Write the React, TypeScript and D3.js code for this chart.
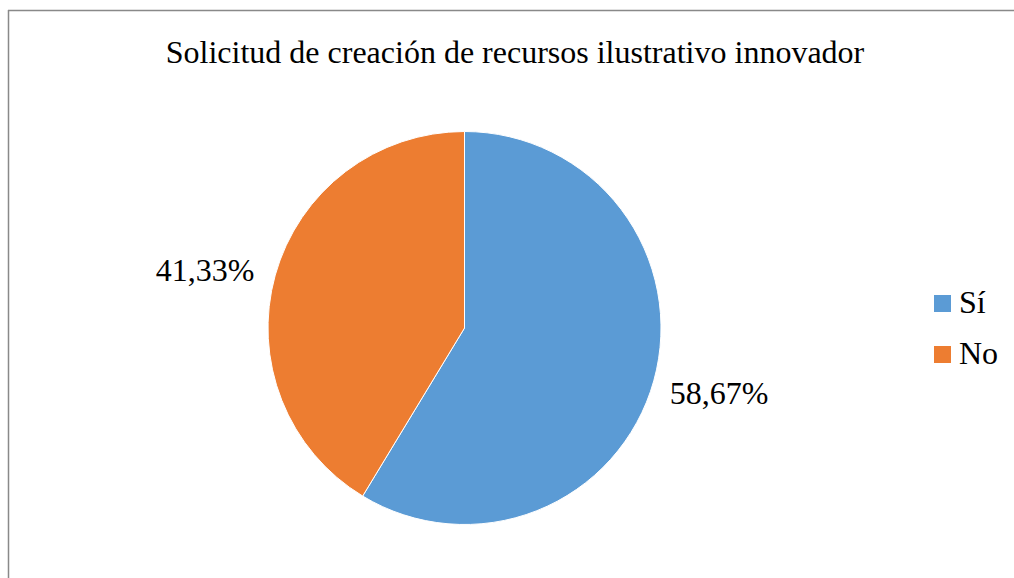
import React from "react";
import * as d3 from "d3";

const categories = ["Sí", "No"];
const values = [58.67, 41.33];
const labels = ["58,67%", "41,33%"];
const colors = ["#5B9BD5", "#ED7D31"];
const title = "Solicitud de creación de recursos ilustrativo innovador";

const font = "'Liberation Serif', 'Times New Roman', Times, serif";

export default function App() {
  const W = 1014, H = 578;
  const cx = 464.5, cy = 328, r = 196.5;
  const pie = d3.pie<number>().sort(null).value((d) => d);
  const arcs = pie(values);
  const arc = d3.arc<d3.PieArcDatum<number>>().innerRadius(0).outerRadius(r);
  const labelPos = [
    { x: 719, y: 404 },
    { x: 205, y: 281 },
  ];
  return (
    <svg width={W} height={H} style={{ position: "absolute", left: 0, top: 0, background: "#fff" }}>
      <rect x={0} y={0} width={W} height={H} fill="#fff" />
      <line x1={8.5} y1={10} x2={8.5} y2={H} stroke="#898989" strokeWidth={1.5} />
      <line x1={8} y1={10.5} x2={W} y2={10.5} stroke="#898989" strokeWidth={1.5} />
      <text x={515} y={63} textAnchor="middle" fontSize={32} fill="#000" fontFamily={font}>{title}</text>
      <g transform={`translate(${cx},${cy})`}>
        {arcs.map((a, i) => (
          <path key={i} d={arc(a) || ""} fill={colors[i]} stroke="#fff" strokeWidth={1} />
        ))}
      </g>
      {labels.map((l, i) => (
        <text key={i} x={labelPos[i].x} y={labelPos[i].y} textAnchor="middle" fontSize={32} fill="#000" fontFamily={font}>{l}</text>
      ))}
      {categories.map((c, i) => (
        <g key={c} transform={`translate(934,${295 + i * 51})`}>
          <rect x={0} y={0} width={17} height={17} fill={colors[i]} />
          <text x={25} y={18} fontSize={32} fill="#000" fontFamily={font}>{c}</text>
        </g>
      ))}
    </svg>
  );
}
